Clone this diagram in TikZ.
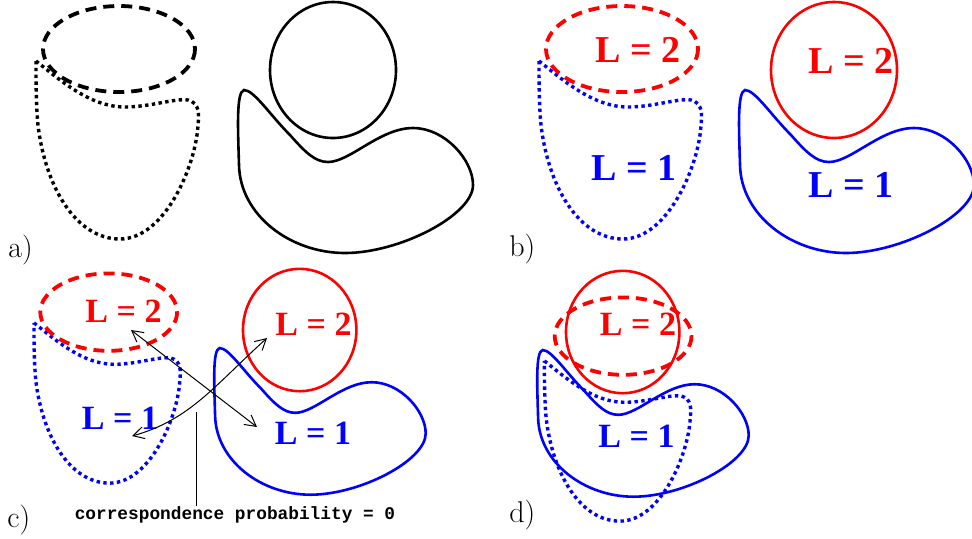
\documentclass[tikz,border=0pt]{standalone}
\usepackage{fontspec}
\newfontfamily\timesfont{Liberation Serif}
\newfontfamily\courfont{Liberation Mono}
\usetikzlibrary{arrows.meta}
\tikzset{
  dotline/.style={line width=1.7pt, dash pattern=on 1.7pt off 1.7pt},
  dashline/.style={line width=1.9pt, dash pattern=on 5.5pt off 3.5pt},
  solidline/.style={line width=1.3pt},
  biglab/.style={inner sep=0pt, font=\timesfont\bfseries\fontsize{19}{19}\selectfont},
  smalllab/.style={inner sep=0pt, font=\timesfont\bfseries\fontsize{17}{17}\selectfont},
  panel/.style={inner sep=0pt, anchor=base west, font=\fontsize{15}{15}\selectfont},
  arr/.style={line width=0.5pt, {Straight Barb[length=5.5pt,width=6pt]}-{Straight Barb[length=5.5pt,width=6pt]}},
}
\newcommand\pathDot{(36,61) .. controls (60,80) and (90,107) .. (125,107) .. controls (150,107) and (175,98) .. (188,100) .. controls (200,103) and (199,115) .. (198,125) .. controls (196,165) and (165,239) .. (120,239) .. controls (75,239) and (45,185) .. (38,125) .. controls (36,105) and (36,80) .. (36,61)}
\newcommand\pathBlob{(244,90) .. controls (254,90) and (270,115) .. (290,135) .. controls (305,152) and (315,162) .. (328,162) .. controls (350,162) and (380,128) .. (413,128) .. controls (445,128) and (473,160) .. (473,185) .. controls (473,215) and (400,253) .. (345,253) .. controls (290,253) and (240,215) .. (239,165) .. controls (238,130) and (236,92) .. (244,90) -- cycle}
\newcommand\pathEll{(119,49) ellipse [x radius=76, y radius=43]}
\newcommand\pathCirc{(333,70) ellipse [x radius=63, y radius=68]}
\begin{document}
\begin{tikzpicture}[x=0.5pt, y=-0.5pt]
\useasboundingbox (0,0) rectangle (972,538);
% panel a
\draw[dotline] \pathDot;
\draw[dashline] \pathEll;
\draw[solidline] \pathBlob;
\draw[solidline] \pathCirc;
\node[panel] (pa) at (8,257) {a)};
% panel b
\begin{scope}[shift={(503,0)}]
  \draw[dotline, blue] \pathDot;
  \draw[dashline, red] \pathEll;
\end{scope}
\begin{scope}[shift={(501,0)}]
  \draw[solidline, blue] \pathBlob;
  \draw[solidline, red] \pathCirc;
\end{scope}
\node[biglab, red] (b2l) at (638,50) {L = 2};
\node[biglab, red] (b2r) at (851,61) {L = 2};
\node[biglab, blue] (b1l) at (634,168) {L = 1};
\node[biglab, blue] (b1r) at (851,185) {L = 1};
\node[panel] (pb) at (509,256) {b)};
% panel c
\begin{scope}[shift={(1.6,268)}, scale=0.9]
  \draw[dotline, blue] \pathDot;
  \draw[dashline, red] \pathEll;
\end{scope}
\begin{scope}[shift={(0,267)}, scale=0.9]
  \draw[solidline, blue] \pathBlob;
  \draw[solidline, red] \pathCirc;
\end{scope}
\node[smalllab, red] (c2l) at (123.5,311) {L = 2};
\node[smalllab, red] (c2r) at (313.5,324.5) {L = 2};
\node[smalllab, blue] (c1l) at (120,418.5) {L = 1};
\node[smalllab, blue] (c1r) at (313,433.5) {L = 1};
\coordinate (a1s) at (131,330);
\coordinate (a1e) at (257,427);
\coordinate (a2s) at (132,436);
\coordinate (a2e) at (267,338);
\draw[arr] (a1s) -- (a1e);
\draw[arr] (a2s) .. controls (190,420) and (215,385) .. (a2e);
\node[inner sep=0pt, anchor=base, font=\courfont\bfseries\fontsize{8.9}{9}\selectfont] (cp) at (235,519) {correspondence probability = 0};
\coordinate (ptop) at (196,412);
\draw[line width=0.5pt] (ptop) -- (ptop |- cp.north);
\node[panel] (pc) at (7,527) {c)};
% panel d
\begin{scope}[shift={(512,306)}, scale=0.9]
  \draw[dotline, blue] \pathDot;
\end{scope}
\begin{scope}[shift={(516,292)}, scale=0.9]
  \draw[dashline, red] \pathEll;
\end{scope}
\begin{scope}[shift={(323,269)}, scale=0.9]
  \draw[solidline, blue] \pathBlob;
  \draw[solidline, red] \pathCirc;
\end{scope}
\node[smalllab, red] (d2) at (638,324.5) {L = 2};
\node[smalllab, blue] (d1) at (636.5,436.5) {L = 1};
\node[panel] (pd) at (509,522) {d)};
\end{tikzpicture}
\end{document}
